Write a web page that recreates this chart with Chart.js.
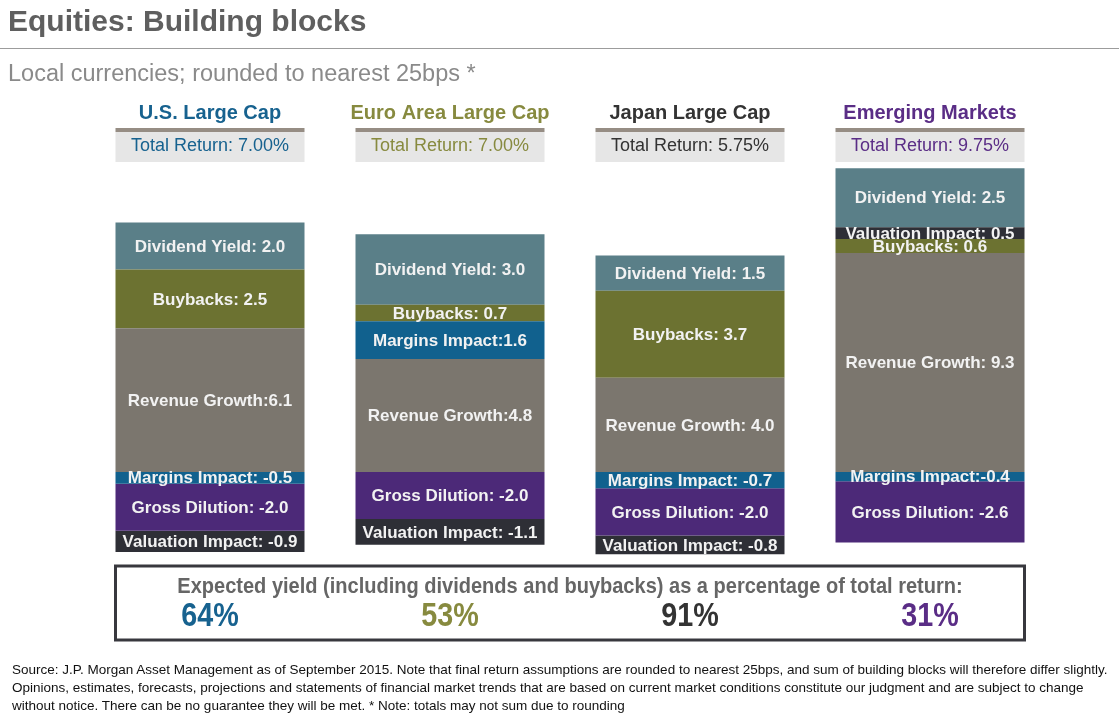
<!DOCTYPE html>
<html>
<head>
<meta charset="utf-8">
<script src="https://cdn.jsdelivr.net/npm/chart.js@4.4.0/dist/chart.umd.min.js"></script>
<style>
body { margin: 0; width: 1119px; height: 716px; overflow: hidden; background: #fff; font-family: "Liberation Sans", Arial, sans-serif; position: relative; }
#chartBox { position: absolute; left: 0; top: 0; width: 1119px; height: 716px; }
#title { position: absolute; left: 8px; top: 4px; font-size: 30px; font-weight: bold; color: #5f5f5f; white-space: nowrap; }
#rule { position: absolute; left: 0; top: 48px; width: 1119px; height: 1px; background: #9c9c9c; }
#sub { position: absolute; left: 8px; top: 60px; font-size: 23.5px; color: #8a8a8a; white-space: nowrap; }
#foot { position: absolute; left: 12px; top: 661px; font-size: 13.5px; line-height: 18px; color: #111; white-space: nowrap; }
</style>
</head>
<body>
<div id="chartBox"><canvas id="chart"></canvas></div>
<div id="title">Equities: Building blocks</div>
<div id="rule"></div>
<div id="sub">Local currencies; rounded to nearest 25bps *</div>
<div id="foot">Source: J.P. Morgan Asset Management as of September 2015. Note that final return assumptions are rounded to nearest 25bps, and sum of building blocks will therefore differ slightly.<br>Opinions, estimates, forecasts, projections and statements of financial market trends that are based on current market conditions constitute our judgment and are subject to change<br>without notice. There can be no guarantee they will be met. * Note: totals may not sum due to rounding</div>
<script>
// Régions et rendements totaux
const regions = ['U.S. Large Cap', 'Euro Area Large Cap', 'Japan Large Cap', 'Emerging Markets'];
const totalReturns = ['7.00%', '7.00%', '5.75%', '9.75%'];
const yieldShares = ['64%', '53%', '91%', '31%'];
const regionColors = ['#17628f', '#878a3f', '#333333', '#5a2d86'];

// Briques (ordre d'empilement Chart.js)
const revenueGrowth = [6.1, 4.8, 4.0, 9.3];
const marginsImpact = [-0.5, 1.6, -0.7, -0.4];
const buybacks = [2.5, 0.7, 3.7, 0.6];
const grossDilution = [-2.0, -2.0, -2.0, -2.6];
const valuationImpact = [-0.9, -1.1, -0.8, 0.5];
const dividendYield = [2.0, 3.0, 1.5, 2.5];

// Séparateur du libellé (le graphique d'origine n'est pas cohérent)
const revenueSep = [':', ':', ': ', ': '];
const marginsSep = [': ', ':', ': ', ':'];

function ds(label, data, color, seps) {
    return {
        label: label,
        data: data,
        backgroundColor: color,
        borderWidth: 0,
        seps: seps || data.map(() => ': ')
    };
}

const segmentLabels = {
    id: 'segmentLabels',
    afterDatasetsDraw(chart) {
        const ctx = chart.ctx;
        ctx.save();
        ctx.font = 'bold 17px "Liberation Sans", Arial, sans-serif';
        ctx.fillStyle = '#f2f2f2';
        ctx.textAlign = 'center';
        ctx.textBaseline = 'middle';
        chart.data.datasets.forEach((d, di) => {
            const meta = chart.getDatasetMeta(di);
            meta.data.forEach((bar, i) => {
                const v = d.data[i];
                const txt = d.label + d.seps[i] + v.toFixed(1);
                ctx.fillText(txt, bar.x, (bar.y + bar.base) / 2 + 1);
            });
        });
        ctx.restore();
    }
};

// Texte un peu condensé, comme dans l'original
function narrowText(ctx, txt, x, y, sx) {
    ctx.save();
    ctx.translate(x, y);
    ctx.scale(sx, 1);
    ctx.fillText(txt, 0, 0);
    ctx.restore();
}

const headers = {
    id: 'headers',
    afterDraw(chart) {
        const ctx = chart.ctx;
        const x = chart.scales.x;
        const meta = chart.getDatasetMeta(0);
        ctx.save();
        ctx.textAlign = 'center';
        ctx.textBaseline = 'middle';
        regions.forEach((r, i) => {
            const cx = x.getPixelForValue(i);
            const hw = meta.data[i].width / 2;
            ctx.fillStyle = regionColors[i];
            ctx.font = 'bold 20px "Liberation Sans", Arial, sans-serif';
            ctx.fillText(r, cx, 113);
            ctx.fillStyle = '#968d84';
            ctx.fillRect(cx - hw, 128, hw * 2, 4);
            ctx.fillStyle = '#e6e6e6';
            ctx.fillRect(cx - hw, 132, hw * 2, 30);
            ctx.fillStyle = regionColors[i];
            ctx.font = '18px "Liberation Sans", Arial, sans-serif';
            ctx.fillText('Total Return: ' + totalReturns[i], cx, 146);
        });

        // Encadré du bas
        const left = x.getPixelForValue(0) - meta.data[0].width / 2;
        const right = x.getPixelForValue(3) + meta.data[3].width / 2;
        ctx.strokeStyle = '#38383e';
        ctx.lineWidth = 3;
        ctx.strokeRect(left, 566, right - left, 74);
        ctx.fillStyle = '#666666';
        ctx.font = 'bold 22px "Liberation Sans", Arial, sans-serif';
        narrowText(ctx, 'Expected yield (including dividends and buybacks) as a percentage of total return:', (left + right) / 2, 587, 0.91);
        ctx.font = 'bold 33px "Liberation Sans", Arial, sans-serif';
        yieldShares.forEach((s, i) => {
            ctx.fillStyle = regionColors[i];
            narrowText(ctx, s, x.getPixelForValue(i), 617, 0.87);
        });
        ctx.restore();
    }
};

new Chart(document.getElementById('chart'), {
    type: 'bar',
    data: {
        labels: regions,
        datasets: [
            ds('Revenue Growth', revenueGrowth, '#7b766e', revenueSep),
            ds('Margins Impact', marginsImpact, '#11618e', marginsSep),
            ds('Buybacks', buybacks, '#6c7231'),
            ds('Gross Dilution', grossDilution, '#4c2978'),
            ds('Valuation Impact', valuationImpact, '#2e2f36'),
            ds('Dividend Yield', dividendYield, '#5a7f88')
        ]
    },
    options: {
        responsive: true,
        maintainAspectRatio: false,
        animation: false,
        layout: { padding: { left: 90, right: 69, top: 166, bottom: 150 } },
        datasets: { bar: { categoryPercentage: 0.7875, barPercentage: 1 } },
        scales: {
            x: { stacked: true, display: false },
            y: { stacked: true, display: false, min: -4, max: 13 }
        },
        plugins: {
            legend: { display: false },
            tooltip: { enabled: false }
        }
    },
    plugins: [segmentLabels, headers]
});
</script>
</body>
</html>
